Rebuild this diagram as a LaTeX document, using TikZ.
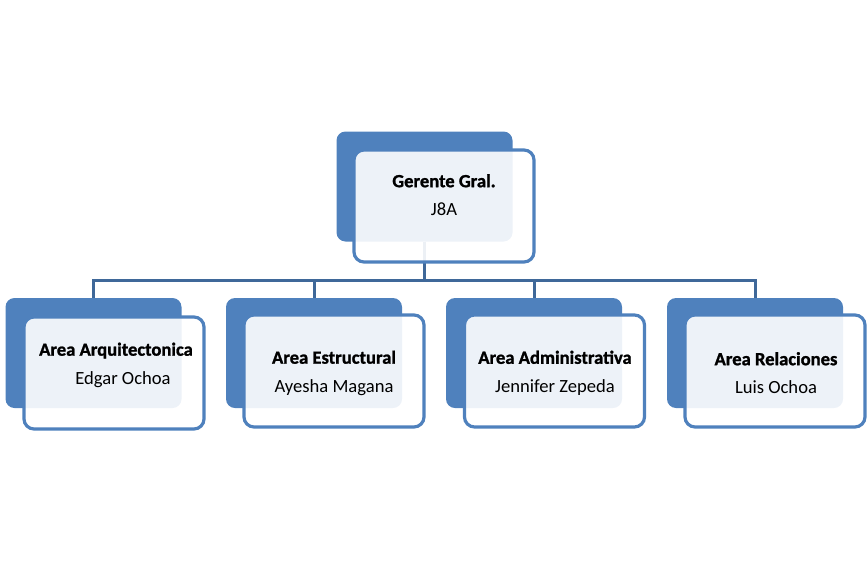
\documentclass[tikz,border=0pt]{standalone}
\usepackage{fontspec}
\setmainfont{Carlito}[BoldFeatures={FakeBold=1.2}]
\usetikzlibrary{positioning,backgrounds}
\definecolor{boxblue}{HTML}{4F81BD}
\definecolor{linkblue}{HTML}{3F6899}
\tikzset{back/.style={draw=none,fill=boxblue,rounded corners=9pt,minimum width=176pt,minimum height=110pt,inner sep=0pt},
  front/.style={draw=boxblue,line width=3.2pt,fill=white,fill opacity=0.9,rounded corners=10pt,minimum width=180pt,minimum height=112pt,inner sep=0pt},
  lbl/.style={align=center,text=black,font=\fontsize{18.6}{28.5}\selectfont,inner sep=0pt},
  link/.style={draw=linkblue,line width=3pt}}

\begin{document}
\begin{tikzpicture}[x=1pt,y=-1pt]
\useasboundingbox (0,0) rectangle (868,560);
% back boxes
\node[back] (g) at (424.5,186.5) {};
\node[back] (a1) at (93.5,353) {};
\node[back] (a2) at (314,353) {};
\node[back] (a3) at (534,353) {};
\node[back] (a4) at (755,353) {};
% links
\begin{scope}[on background layer]
\draw[link] (g.south) -- (g.south |- 0,280) -| (a1.north);
\draw[link] (g.south) -- (g.south |- 0,280) -| (a2.north);
\draw[link] (g.south) -- (g.south |- 0,280) -| (a3.north);
\draw[link] (g.south) -- (g.south |- 0,280) -| (a4.north);
\end{scope}
% front boxes
\node[front] (fg) at (444,206) {};
\node[front] (f1) at (114,373) {};
\node[front] (f2) at (334,371) {};
\node[front] (f3) at (554.5,371) {};
\node[front] (f4) at (775,371) {};
% texts
\node[lbl] (t0) at (444,195) {\textbf{Gerente Gral.}\\J8A};
\node[lbl] (t1) at (116,365) {\textbf{Area Arquitectonica}\\\hspace*{14pt}Edgar Ochoa};
\node[lbl] (t2) at (334,373) {\textbf{Area Estructural}\\Ayesha Magana};
\node[lbl] (t3) at (555,373) {\textbf{Area Administrativa}\\Jennifer Zepeda};
\node[lbl] (t4) at (776,373) {\textbf{Area Relaciones}\\Luis Ochoa};
\end{tikzpicture}
\end{document}
